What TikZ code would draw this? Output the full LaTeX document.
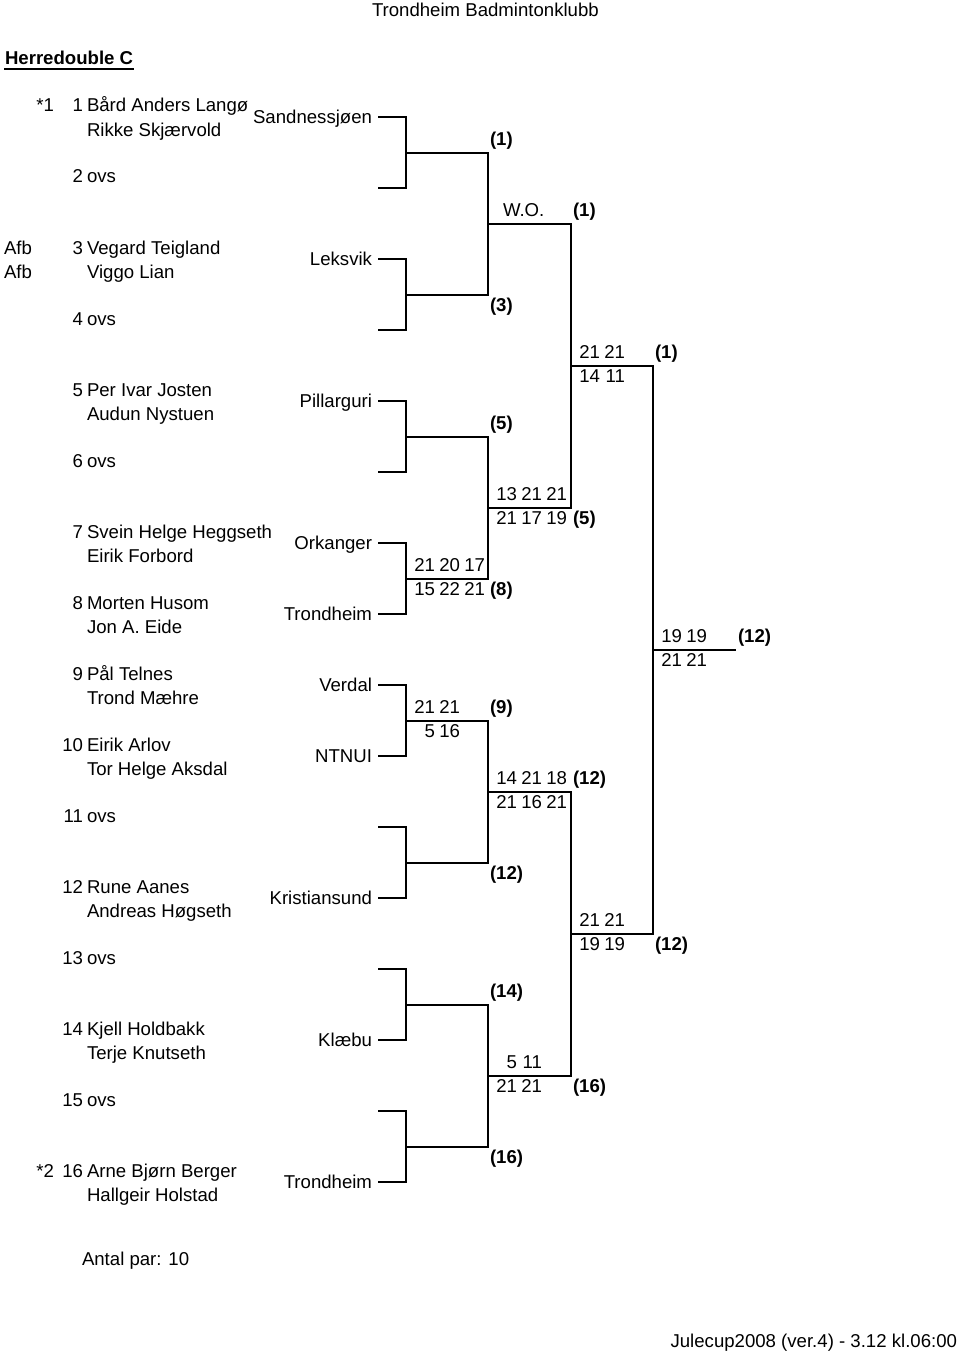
\documentclass[tikz,border=0pt]{standalone}
\usepackage{fontspec}
\setmainfont{Liberation Sans}
\usepackage{tikz}
\usetikzlibrary{positioning}

\newcommand{\game}[1]{\makebox[12.5pt][r]{#1}}

\begin{document}
\begin{tikzpicture}[x=0.5pt,y=-0.5pt,
    font=\fontsize{9.3}{11}\selectfont,
    line width=1pt,
    txt/.style={anchor=base west,inner sep=0pt},
    rtxt/.style={anchor=base east,inner sep=0pt},
    seed/.style={txt,execute at begin node=\bfseries}]
    % Page
    \path[use as bounding box,fill=white] (0,0) rectangle (960,1354);

    % Headings
    \node[txt] (club) at (371,17) {Trondheim Badmintonklubb};
    \node[seed] (event) at (4,65) {Herredouble C};
    \draw[line width=0.9pt] ([yshift=-2pt]event.base west) -- ([yshift=-2pt]event.base east);
    \node[txt] (count) at (81,1265) {Antal par: 10};
    \node[rtxt] (stamp) at (958,1347) {Julecup2008 (ver.4) - 3.12 kl.06:00};

    % Pairs
    \foreach \i/\n/\pa/\pb/\cl in {0/1/{Bård Anders Langø}/{Rikke Skjærvold}/Sandnessjøen,
        2/3/{Vegard Teigland}/{Viggo Lian}/Leksvik,
        4/5/{Per Ivar Josten}/{Audun Nystuen}/Pillarguri,
        6/7/{Svein Helge Heggseth}/{Eirik Forbord}/Orkanger,
        7/8/{Morten Husom}/{Jon A. Eide}/Trondheim,
        8/9/{Pål Telnes}/{Trond Mæhre}/Verdal,
        9/10/{Eirik Arlov}/{Tor Helge Aksdal}/NTNUI,
        11/12/{Rune Aanes}/{Andreas Høgseth}/Kristiansund,
        13/14/{Kjell Holdbakk}/{Terje Knutseth}/Klæbu,
        15/16/{Arne Bjørn Berger}/{Hallgeir Holstad}/Trondheim} {
        \node[rtxt] (n\n) at (84,112+71*\i) {\n};
        \node[txt] (pa\n) at (86,112+71*\i) {\pa};
        \node[txt] (pb\n) at (86,136+71*\i) {\pb};
        \node[rtxt] (cl\n) at (373,123.5+71*\i) {\cl};
    }
    % Byes
    \foreach \i/\n in {1/2,3/4,5/6,10/11,12/13,14/15} {
        \node[rtxt] (n\n) at (84,112+71*\i) {\n};
        \node[txt] (ovs\n) at (86,112+71*\i) {ovs};
    }
    \node[rtxt] (star1) at (55,112) {*1};
    \node[rtxt] (star2) at (55,1177) {*2};
    \node[txt] (afb1) at (3,254) {Afb};
    \node[txt] (afb2) at (3,278) {Afb};

    % Bracket
    \foreach \i in {0,...,15} \coordinate (s\i) at (378,117+71*\i);
    \foreach \j in {0,...,7} \coordinate (a\j) at (406,152.5+142*\j);
    \foreach \k in {0,...,3} \coordinate (b\k) at (488,223.5+284*\k);
    \foreach \l in {0,1} \coordinate (c\l) at (571,365.5+568*\l);
    \coordinate (d0) at (653,649.5);
    \coordinate (champ) at (736,649.5);
    \foreach \i in {0,...,15} {
        \pgfmathtruncatemacro{\j}{\i/2}
        \draw (s\i) -| (a\j);
    }
    \foreach \j in {0,...,7} {
        \pgfmathtruncatemacro{\k}{\j/2}
        \draw (a\j) -| (b\k);
    }
    \foreach \k in {0,...,3} {
        \pgfmathtruncatemacro{\l}{\k/2}
        \draw (b\k) -| (c\l);
    }
    \draw (c0) -| (d0);
    \draw (c1) -| (d0);
    \draw (d0) -- (champ);

    % Round 1
    \node[seed] (wa0) at ([shift={(83,-7)}]a0) {(1)};
    \node[seed] (wa1) at ([shift={(83,17)}]a1) {(3)};
    \node[seed] (wa2) at ([shift={(83,-7)}]a2) {(5)};
    \node[txt] (ua3) at ([shift={(3,-7)}]a3) {\game{21}\game{20}\game{17}};
    \node[txt] (la3) at ([shift={(3,17)}]a3) {\game{15}\game{22}\game{21}};
    \node[seed] (wa3) at ([shift={(83,17)}]a3) {(8)};
    \node[txt] (ua4) at ([shift={(3,-7)}]a4) {\game{21}\game{21}};
    \node[txt] (la4) at ([shift={(3,17)}]a4) {\game{5}\game{16}};
    \node[seed] (wa4) at ([shift={(83,-7)}]a4) {(9)};
    \node[seed] (wa5) at ([shift={(83,17)}]a5) {(12)};
    \node[seed] (wa6) at ([shift={(83,-7)}]a6) {(14)};
    \node[seed] (wa7) at ([shift={(83,17)}]a7) {(16)};

    % Round 2
    \node[txt] (ub0) at ([shift={(14,-7)}]b0) {W.O.};
    \node[seed] (wb0) at ([shift={(84,-7)}]b0) {(1)};
    \node[txt] (ub1) at ([shift={(3,-7)}]b1) {\game{13}\game{21}\game{21}};
    \node[txt] (lb1) at ([shift={(3,17)}]b1) {\game{21}\game{17}\game{19}};
    \node[seed] (wb1) at ([shift={(84,17)}]b1) {(5)};
    \node[txt] (ub2) at ([shift={(3,-7)}]b2) {\game{14}\game{21}\game{18}};
    \node[txt] (lb2) at ([shift={(3,17)}]b2) {\game{21}\game{16}\game{21}};
    \node[seed] (wb2) at ([shift={(84,-7)}]b2) {(12)};
    \node[txt] (ub3) at ([shift={(3,-7)}]b3) {\game{5}\game{11}};
    \node[txt] (lb3) at ([shift={(3,17)}]b3) {\game{21}\game{21}};
    \node[seed] (wb3) at ([shift={(84,17)}]b3) {(16)};

    % Semifinals
    \node[txt] (uc0) at ([shift={(3,-7)}]c0) {\game{21}\game{21}};
    \node[txt] (lc0) at ([shift={(3,17)}]c0) {\game{14}\game{11}};
    \node[seed] (wc0) at ([shift={(83,-7)}]c0) {(1)};
    \node[txt] (uc1) at ([shift={(3,-7)}]c1) {\game{21}\game{21}};
    \node[txt] (lc1) at ([shift={(3,17)}]c1) {\game{19}\game{19}};
    \node[seed] (wc1) at ([shift={(83,17)}]c1) {(12)};

    % Final
    \node[txt] (ud0) at ([shift={(3,-7)}]d0) {\game{19}\game{19}};
    \node[txt] (ld0) at ([shift={(3,17)}]d0) {\game{21}\game{21}};
    \node[seed] (wd0) at ([shift={(84,-7)}]d0) {(12)};
\end{tikzpicture}
\end{document}
